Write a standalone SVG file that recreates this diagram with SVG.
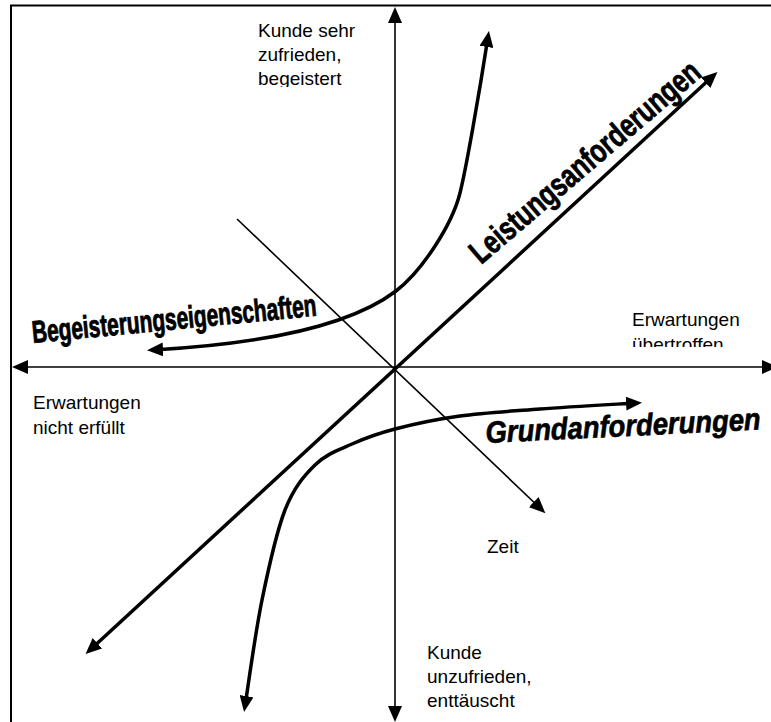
<svg xmlns="http://www.w3.org/2000/svg" width="771" height="722" viewBox="0 0 771 722">
<defs>
<style>
.lbl{font-family:"Liberation Sans",Arial,sans-serif;font-size:19px;fill:#000}
.wa{font-family:"Liberation Sans",Arial,sans-serif;font-weight:bold;fill:#000;stroke:#000;stroke-width:0.6}
.thin{fill:none;stroke:#000;stroke-width:1.6}
.thick{fill:none;stroke:#000;stroke-width:3.5}
</style>
<marker id="ah" markerUnits="userSpaceOnUse" viewBox="0 0 16 14" markerWidth="16" markerHeight="14" refX="10" refY="7" orient="auto-start-reverse"><path d="M0,0 L16,7 L0,14 z" fill="#000"/></marker>
<clipPath id="c1"><rect x="250" y="10" width="130" height="77"/></clipPath>
<clipPath id="c2"><rect x="625" y="300" width="140" height="47"/></clipPath>
</defs>
<rect x="0" y="0" width="771" height="722" fill="#fff"/>
<rect id="frame" x="11" y="5.5" width="820" height="800" fill="none" stroke="#000" stroke-width="2"/>
<g id="connectors">
<path id="axis-y" class="thin" d="M395,13 L395,716" marker-start="url(#ah)" marker-end="url(#ah)"/>
<path id="axis-x" class="thin" d="M18,367 L772,367" marker-start="url(#ah)" marker-end="url(#ah)"/>
<path id="zeit-line" class="thin" d="M237,219 L541,509" marker-end="url(#ah)"/>
<path id="leistung-line" class="thick" d="M90,650 L713,76" marker-start="url(#ah)" marker-end="url(#ah)"/>
<path id="begeisterung-curve" class="thick" d="M153,350 C260,344 350,326 396,291 C422,271 452,225 460,193 C466,169 479,95 488,37" marker-start="url(#ah)" marker-end="url(#ah)"/>
<path id="grund-curve" class="thick" d="M245,706 C247.8,688.3 255.3,632.7 262,600 C268.7,567.3 276.2,532.5 285,510 C293.8,487.5 303.8,476 315,465 C326.2,454 338.7,450 352,444 C365.3,438 377,433.7 395,429 C413,424.3 435.8,419.3 460,416 C484.2,412.7 510.7,411.2 540,409 C569.3,406.8 620,404 636,403" marker-start="url(#ah)" marker-end="url(#ah)"/>
</g>
<g id="label-top">
<g clip-path="url(#c1)">
<text class="lbl" x="258" y="37">Kunde sehr</text>
<text class="lbl" x="258" y="61">zufrieden,</text>
<text class="lbl" x="258" y="85">begeistert</text>
</g>
</g>
<g id="label-right">
<g clip-path="url(#c2)">
<text class="lbl" x="632" y="326">Erwartungen</text>
<text class="lbl" x="632" y="351">übertroffen</text>
</g>
</g>
<g id="label-left">
<text class="lbl" x="33" y="409">Erwartungen</text>
<text class="lbl" x="33" y="434">nicht erfüllt</text>
</g>
<g id="label-bottom">
<text class="lbl" x="427" y="659">Kunde</text>
<text class="lbl" x="427" y="683">unzufrieden,</text>
<text class="lbl" x="427" y="707">enttäuscht</text>
</g>
<g id="label-zeit">
<text class="lbl" x="487" y="553">Zeit</text>
</g>
<g id="begeisterungseigenschaften">
<text class="wa" font-size="20.9" x="0" y="0" transform="translate(33 343) rotate(-5.5) scale(1 1.5)">Begeisterungseigenschaften</text>
</g>
<g id="leistungsanforderungen">
<text class="wa" font-size="24.8" x="0" y="0" transform="translate(481 265) rotate(-40.5) scale(1 1.32)">Leistungsanforderungen</text>
</g>
<g id="grundanforderungen">
<text class="wa" font-size="27.4" font-style="italic" x="0" y="0" transform="translate(486 443) rotate(-2.8) scale(1 1.12)">Grundanforderungen</text>
</g>
</svg>
